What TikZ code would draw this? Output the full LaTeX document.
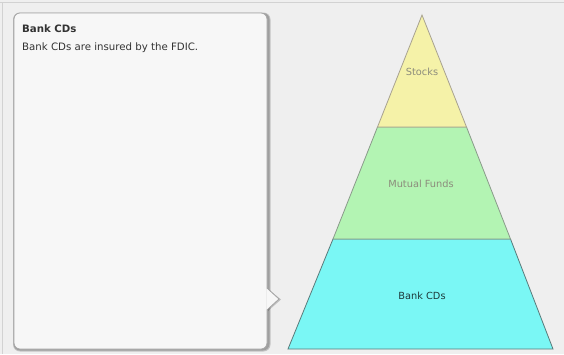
\documentclass[tikz,border=0pt]{standalone}
\usepackage{fontspec}
\setmainfont{DejaVu Sans}
\usetikzlibrary{shadows}
\definecolor{bg}{HTML}{EFEFEF}
\definecolor{frameline}{HTML}{D2D2D2}
\definecolor{boxfill}{HTML}{F7F7F7}
\definecolor{boxline}{HTML}{A5A5A5}
\definecolor{stocksfill}{HTML}{F5F2A8}
\definecolor{stocksline}{HTML}{A8A290}
\definecolor{mutualfill}{HTML}{B3F4B3}
\definecolor{mutualline}{HTML}{8A9A8A}
\definecolor{bankfill}{HTML}{7AF7F5}
\definecolor{bankline}{HTML}{5A7A7A}
\definecolor{titletext}{HTML}{333333}
\definecolor{paletext}{HTML}{8C8C7C}
\definecolor{darktext}{HTML}{1E3A3A}
\tikzset{
  tierlabel/.style={font=\fontsize{9.8}{12}\selectfont, inner sep=0pt, anchor=center},
  boxtext/.style={font=\fontsize{10.2}{12}\selectfont, inner sep=0pt, anchor=base west, text=titletext},
}
\begin{document}
\begin{tikzpicture}[x=1pt,y=-1pt]
\useasboundingbox (0,0) rectangle (564,354);
\fill[bg] (0,0) rectangle (564,354);
\draw[frameline, line width=1.5pt] (0,2.5) -- (564,2.5);
\draw[frameline, line width=1pt] (2.5,2.5) -- (2.5,354);
% callout box
\fill[black, opacity=0.18, rounded corners=7pt] (13,12.5) rectangle (270.5,351.5);
\fill[black, opacity=0.18, rounded corners=6.5pt] (13.5,13) rectangle (269.5,350.5);
\draw[boxline, fill=boxfill, line width=0.8pt, rounded corners=6pt] (14,13) rectangle (267,349);
\fill[black, opacity=0.2] (268,289) -- (281,299.5) -- (268,311) -- cycle;
\fill[boxfill] (266.4,288) -- (279,299) -- (266.4,310) -- cycle;
\draw[boxline, line width=0.8pt, line join=miter] (267,288) -- (279,299) -- (267,310);
\node[boxtext, font=\fontsize{10.2}{12}\selectfont\bfseries] (title) at (22,32.5) {Bank CDs};
\node[boxtext] (body) at (22,50) {Bank CDs are insured by the FDIC.};
% pyramid
\coordinate (apex) at (422,15);
\coordinate (l1) at (377.5,127);
\coordinate (r1) at (466.5,127);
\coordinate (l2) at (333,239);
\coordinate (r2) at (510.5,239);
\coordinate (bl) at (288,349);
\coordinate (br) at (553,349);
\draw[fill=bankfill, draw=bankline, line width=0.8pt] (l2) -- (r2) -- (br) -- (bl) -- cycle;
\draw[fill=mutualfill, draw=mutualline, line width=0.8pt] (l1) -- (r1) -- (r2) -- (l2) -- cycle;
\draw[fill=stocksfill, draw=stocksline, line width=0.8pt] (apex) -- (r1) -- (l1) -- cycle;
\node[tierlabel, text=paletext] (stocks) at (422,72) {Stocks};
\node[tierlabel, text=paletext] (mutual) at (421,184) {Mutual Funds};
\node[tierlabel, text=darktext] (bank) at (422,296) {Bank CDs};
\end{tikzpicture}
\end{document}
